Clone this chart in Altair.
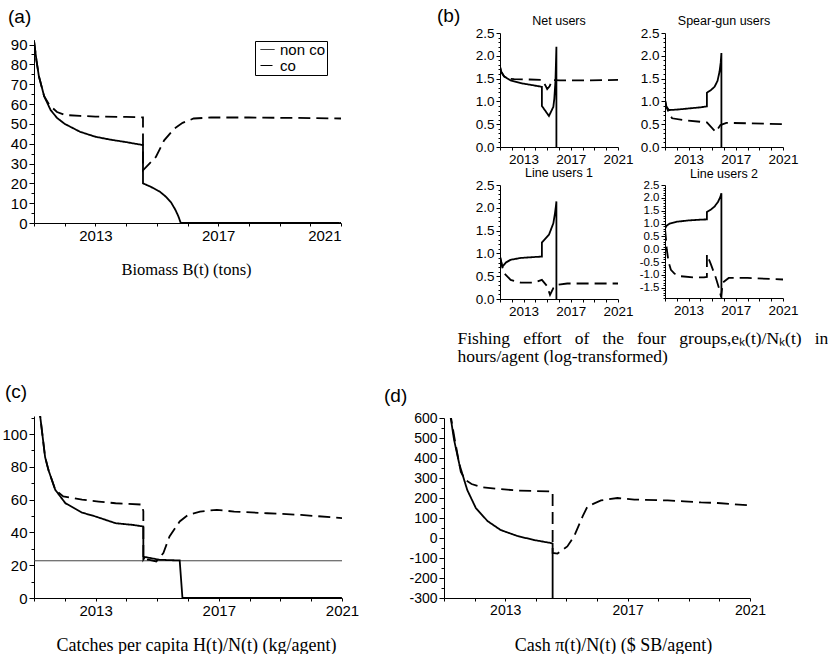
import altair as alt
import pandas as pd

YEARS = list(range(2011, 2022))
SERIES = ["non co", "co"]

# (a) Biomass B(t) (tons)
a_t_non = [2011.0, 2011.08, 2011.16, 2011.33, 2011.54, 2011.75, 2012.0, 2012.5, 2013.0, 2013.5, 2014.0, 2014.55,
           2014.55, 2014.8, 2015.1, 2015.3, 2015.46, 2015.6, 2015.7, 2015.78, 2021.0]
a_v_non = [92, 82, 74, 64, 57, 53, 50, 46, 43.5, 42, 40.8, 39.3,
           20, 18.3, 15.8, 13.2, 10.5, 6.8, 3.5, 0, 0]
a_t_co = [2011.0, 2011.08, 2011.16, 2011.33, 2011.5, 2011.75, 2012.0, 2012.5, 2013.0, 2014.0, 2014.55,
          2014.55, 2014.97, 2015.24, 2015.57, 2015.84, 2016.2, 2016.76, 2018.0, 2019.5, 2021.0]
a_v_co = [92, 82, 74, 64, 59.5, 56, 54.5, 54, 53.7, 53.5, 53.3,
          26.6, 33.3, 41.7, 47.6, 50.5, 52.7, 53.2, 53.2, 53, 52.7]

# (b) Net users
b1_t_non = [2011.0, 2011.1, 2011.34, 2011.9, 2012.75, 2013.88, 2014.55, 2014.55, 2015.15, 2015.52, 2015.6, 2015.7,
            2015.78, 2015.78]
b1_v_non = [1.76, 1.65, 1.55, 1.46, 1.40, 1.35, 1.32, 0.9, 0.68, 0.88, 1.05, 1.45, 2.2, 0.0]
b1_t_co = [2011.0, 2011.1, 2011.34, 2011.62, 2012.2, 2013.5, 2014.55, 2014.85, 2015.0, 2015.2, 2015.43, 2016.1,
           2018.0, 2021.0]
b1_v_co = [1.76, 1.65, 1.55, 1.5, 1.49, 1.48, 1.47, 1.35, 1.27, 1.33, 1.47, 1.46, 1.46, 1.47]

# (b) Spear-gun users
b2_t_non = [2011.0, 2011.12, 2011.34, 2012.0, 2013.0, 2014.0, 2014.55, 2014.55, 2014.9, 2015.2, 2015.45, 2015.62,
            2015.72, 2015.78, 2015.78]
b2_v_non = [1.03, 0.88, 0.81, 0.82, 0.845, 0.87, 0.89, 1.19, 1.25, 1.32, 1.45, 1.65, 1.85, 2.06, 0.0]
b2_t_co = [2011.0, 2011.12, 2011.34, 2011.6, 2012.6, 2014.1, 2014.55, 2014.9, 2015.3, 2015.7, 2016.2, 2018.0,
           2021.0]
b2_v_co = [1.03, 0.88, 0.74, 0.63, 0.59, 0.55, 0.54, 0.44, 0.33, 0.48, 0.53, 0.52, 0.5]

# (b) Line users 1
b3_t_non = [2011.0, 2011.2, 2011.5, 2011.9, 2012.75, 2013.88, 2014.55, 2014.55, 2015.15, 2015.52, 2015.66, 2015.72,
            2015.78, 2015.78]
b3_v_non = [0.93, 0.71, 0.8, 0.86, 0.9, 0.92, 0.93, 1.24, 1.41, 1.66, 1.88, 2.0, 2.14, 0.0]
b3_t_co = [2011.0, 2011.15, 2011.34, 2011.9, 2012.75, 2013.88, 2014.55, 2015.0, 2015.24, 2015.52, 2015.86, 2016.7,
           2021.0]
b3_v_co = [0.93, 0.75, 0.57, 0.42, 0.36, 0.36, 0.42, 0.28, 0.09, 0.24, 0.31, 0.34, 0.34]

# (b) Line users 2
b4_t_non = [2011.0, 2011.15, 2011.4, 2012.0, 2013.0, 2014.0, 2014.55, 2014.55, 2014.9, 2015.2, 2015.5, 2015.7,
            2015.78, 2015.78]
b4_v_non = [0.8, 0.92, 1.0, 1.07, 1.12, 1.15, 1.16, 1.45, 1.55, 1.66, 1.85, 2.05, 2.18, -1.9]
b4_t_co = [2011.0, 2011.08, 2011.15, 2011.3, 2011.5, 2011.8, 2012.3, 2013.5, 2014.3, 2014.55, 2014.55, 2014.9,
           2015.3, 2015.6, 2015.75, 2015.9, 2016.4, 2018.0, 2021.0]
b4_v_co = [0.8, 0.4, 0.0, -0.5, -0.8, -0.95, -1.05, -1.1, -1.1, -1.08, -0.2, -0.6,
           -1.1, -1.55, -1.85, -1.3, -1.12, -1.12, -1.18]

# (c) Catches per capita
c_t_non = [2011.0, 2011.2, 2011.36, 2011.47, 2011.69, 2012.02, 2012.56, 2013.0, 2013.65, 2014.2, 2014.55,
           2014.55, 2014.6, 2015.08, 2015.73, 2015.82, 2021.0]
c_v_non = [150, 111, 86, 78, 66, 57.8, 52.1, 49.7, 45.6, 44.6, 43.6, 23.5, 25, 23.3, 22.9, 0, 0]
c_t_co = [2011.0, 2011.2, 2011.36, 2011.47, 2011.69, 2011.95, 2012.56, 2013.1, 2013.65, 2014.5, 2014.55,
          2014.55, 2014.75, 2014.97, 2015.2, 2015.4, 2015.73, 2016.0, 2016.39, 2016.94, 2017.5, 2018.57,
          2019.67, 2021.0]
c_v_co = [150, 111, 86, 78, 66, 62, 60, 58.8, 57.8, 57, 53, 23.5, 23.3, 22.3, 27.4, 37.5, 46.7, 50.7, 52.7,
          53.8, 52.7, 51.7, 50.7, 48.7]
c_threshold = [22.7]

# (d) Cash
d_t_non = [2011.1, 2011.22, 2011.33, 2011.5, 2011.76, 2012.04, 2012.42, 2012.85, 2013.4, 2013.94, 2014.49,
           2014.55, 2014.55]
d_v_non = [720, 600, 490, 370, 240, 150, 85, 40, 10, -10, -25, -28, -300]
d_t_co = [2011.1, 2011.22, 2011.33, 2011.45, 2011.55, 2011.7, 2011.9, 2012.2, 2012.8, 2013.4, 2014.49, 2014.55,
          2014.55, 2014.71, 2015.03, 2015.25, 2015.53, 2015.69, 2016.13, 2016.67, 2017.22, 2018.31, 2018.85,
          2019.4, 2019.94, 2021.0]
d_v_co = [720, 610, 510, 410, 330, 290, 270, 255, 245, 237, 233, 232, -75, -78, -42, 8, 108, 158, 188, 200,
          192, 188, 183, 178, 175, 163]

SANS = "Liberation Sans"
SERIF = "Liberation Serif"
MINUS = "\u2212"
GAP = " \u00a0\u00a0"


def series_frame(t_non, v_non, t_co, v_co):
    rows = []
    for name, ts, vs in (("non co", t_non, v_non), ("co", t_co, v_co)):
        for i, (t, v) in enumerate(zip(ts, vs)):
            rows.append({"t": t, "v": v, "s": name, "i": i})
    return pd.DataFrame(rows)


def x_axis(fs, flush, title=None, tfs=16.5, **extra):
    kw = dict(values=YEARS, format="d",
              labelExpr="datum.value % 4 == 1 ? datum.label : ''",
              tickSize=3, labelFontSize=fs, labelFlush=flush, labelPadding=2, labelFont=SANS)
    if title is not None:
        kw.update(title=title, titleFont=SERIF, titleFontSize=tfs, titleFontWeight="normal",
                  titleBaseline="top", titleColor="black", **extra)
    else:
        kw.update(title=None)
    return alt.Axis(**kw)


def y_axis(vals, fs, test, fmt, major=5, minor=3):
    return alt.Axis(values=vals, format=fmt,
                    labelExpr=f"({test}) ? replace(datum.label, '{MINUS}', '-') : ''",
                    tickSize={"condition": {"test": test, "value": major}, "value": minor},
                    labelFontSize=fs, labelFont=SANS, labelPadding=2, title=None)


def line_layer(df, ydom, xax, yax, dash, legend=None, sw=1.8):
    return alt.Chart(df).mark_line(color="black", strokeWidth=sw, clip=True).encode(
        x=alt.X("t:Q", scale=alt.Scale(domain=[2011, 2021], nice=False, zero=False), axis=xax),
        y=alt.Y("v:Q", scale=alt.Scale(domain=ydom, nice=False, zero=False), axis=yax),
        strokeDash=alt.StrokeDash("s:N", scale=alt.Scale(domain=SERIES, range=[[1, 0], dash]), legend=legend),
        order=alt.Order("i:Q"),
    )


def letter(text, dx, offset):
    return alt.TitleParams(text=text, anchor="start", frame="group", font=SANS, fontSize=19,
                           fontWeight="normal", color="black", dx=dx, offset=offset)


def sub_title(text):
    return alt.TitleParams(text=text, anchor="middle", frame="group", font=SANS, fontSize=12.5,
                           fontWeight="normal", color="black", offset=-1)


def spacer(w, h, title=None):
    ch = alt.Chart(pd.DataFrame({"z": [0]})).mark_point(opacity=0, size=1).encode(
        x=alt.value(0), y=alt.value(0))
    if title is not None:
        return ch.properties(width=w, height=h, title=title)
    return ch.properties(width=w, height=h)


def place(chart, x, y, w, h):
    """Put a panel at offset (x, y) from the common origin using empty cells."""
    if x > 0 and y > 0:
        return alt.concat(spacer(x, y), spacer(w, y), spacer(x, h), chart,
                          columns=2, spacing=0, bounds="flush", align="none")
    if x > 0:
        return alt.hconcat(spacer(x, h), chart, spacing=0, bounds="flush")
    return alt.vconcat(spacer(w, y), chart, spacing=0, bounds="flush")


legend_a = alt.Legend(orient="none", legendX=221, legendY=8, title=None, symbolType="stroke",
                      symbolSize=196, symbolStrokeWidth=1, labelFont=SANS, labelFontSize=15,
                      labelColor="black", fillColor="white", strokeColor="black", padding=1,
                      rowPadding=-5, symbolOffset=4, labelOffset=5)

# panel (a)
A = line_layer(series_frame(a_t_non, a_v_non, a_t_co, a_v_co), [0, 92.3],
               x_axis(15, True, "Biomass B(t) (tons)", titleX=152, titleY=38, titleAlign="center"),
               y_axis(list(range(0, 91, 5)), 15, "datum.value % 10 == 0", "d"),
               [12, 6], legend=legend_a).properties(width=307, height=183, title=letter("(a)", -26, 11))

# panel (b)
B_TICKS = [round(i * 0.1, 1) for i in range(0, 26)]
B4_TICKS = [round(i * 0.1, 1) for i in range(-19, 26)]
B_TEST = "abs(round(datum.value * 10)) % 5 == 0"


def b_panel(df, ydom, ticks, yfs, title, xax):
    return line_layer(df, ydom, xax, y_axis(ticks, yfs, B_TEST, ".1f", 4, 2), [8, 5]).properties(
        width=118, height=114 if ydom[0] == 0 else 113, title=sub_title(title))


B_CAPTION = [GAP.join(["Fishing", "effort", "of", "the", "four", "groups,e\u2096(t)/N\u2096(t)", "in"]),
             "hours/agent (log-transformed)"]

B1 = b_panel(series_frame(b1_t_non, b1_v_non, b1_t_co, b1_v_co), [0, 2.5], B_TICKS, 13.5, "Net users",
             x_axis(13.5, False))
B2 = b_panel(series_frame(b2_t_non, b2_v_non, b2_t_co, b2_v_co), [0, 2.5], B_TICKS, 13.5, "Spear-gun users",
             x_axis(13.5, False))
B3 = b_panel(series_frame(b3_t_non, b3_v_non, b3_t_co, b3_v_co), [0, 2.5], B_TICKS, 13.5, "Line users 1",
             x_axis(13.5, False, B_CAPTION, tfs=17.5, titleX=-43, titleY=30, titleAlign="left",
                    titleLineHeight=18))
B4 = b_panel(series_frame(b4_t_non, b4_v_non, b4_t_co, b4_v_co), [-1.9, 2.5], B4_TICKS, 11.5, "Line users 2",
             x_axis(13.5, False))

# panel (c)
c_yax = y_axis(list(range(0, 111, 10)), 15, "datum.value % 20 == 0", "d")
c_xax = x_axis(15, False, "Catches per capita H(t)/N(t) (kg/agent)", tfs=18, titleX=162, titleY=38,
               titleAlign="center")
c_rule = alt.Chart(pd.DataFrame({"v": c_threshold})).mark_rule(color="#444444", strokeWidth=1).encode(
    y=alt.Y("v:Q", scale=alt.Scale(domain=[0, 111], nice=False, zero=False), axis=c_yax))
c_lines = line_layer(series_frame(c_t_non, c_v_non, c_t_co, c_v_co), [0, 111], c_xax, c_yax, [12, 6])
C = alt.layer(c_rule, c_lines).properties(width=308, height=182, title=letter("(c)", -29, 14))

# panel (d)
D = line_layer(series_frame(d_t_non, d_v_non, d_t_co, d_v_co), [-300, 600],
               x_axis(14, False, "Cash \u03c0(t)/N(t) ($ SB/agent)", tfs=18, titleX=169, titleY=38,
                      titleAlign="center"),
               y_axis(list(range(-300, 601, 50)), 14, "datum.value % 100 == 0", "d"),
               [12, 6]).properties(width=306, height=180, title=letter("(d)", -60, 5))

groups = [
    place(A, 0, 7, 307, 183),
    place(spacer(30, 10, letter("(b)", 0, 7)), 403, 0, 30, 10),
    place(B1, 466, 0, 118, 114),
    place(B2, 631, 0, 118, 114),
    place(B3, 466, 152, 118, 114),
    place(B4, 631, 152, 118, 113),
    place(C, 0, 383, 308, 182),
    place(D, 410, 385, 306, 180),
]

chart = alt.vconcat(*groups, spacing=0, bounds="flush").properties(
    padding={"left": 1, "top": 6, "right": 0, "bottom": 0}
).configure(font=SANS).configure_view(stroke=None).configure_axis(
    grid=False, domainColor="black", tickColor="black", labelColor="black", domainWidth=1, tickWidth=1
)

chart.save("out.html", embed_options={"renderer": "svg", "actions": False})
